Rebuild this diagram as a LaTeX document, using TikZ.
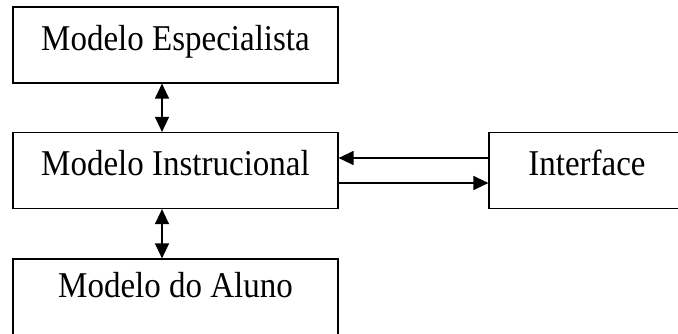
\documentclass[tikz,border=0pt]{standalone}
\usepackage{fontspec}
\usepackage{graphicx}
\setmainfont{Liberation Serif}
\usetikzlibrary{arrows.meta}
\newcommand{\tall}[1]{\scalebox{1}[1.1]{#1}}
\begin{document}
\begin{tikzpicture}[x=1pt,y=-1pt,
  box/.style={draw=black,line width=1.2pt,rectangle,inner sep=0pt,
    minimum width=#1,minimum height=76pt},
  box/.default=325pt,
  lbl/.style={anchor=base,inner sep=0pt,font=\fontsize{33}{36}\selectfont},
  link/.style={line width=1.3pt,-{Triangle[length=15pt,width=14pt]}},
  both/.style={line width=1.3pt,{Triangle[length=15pt,width=14pt]}-{Triangle[length=15pt,width=14pt]}}]
  \useasboundingbox (0,0) rectangle (678,333);
  \clip (0,0) rectangle (678,333);
  \fill[white] (0,0) rectangle (678,333);

  % boxes
  \node[box] (esp) at (175.5,45) {};
  \node[box] (ins) at (175.5,170.5) {};
  \node[box] (alu) at (175.5,297) {};
  \node[box=196pt] (int) at (587,170.5) {};

  % labels
  \node[lbl] (tesp) at ([yshift=-44pt]esp.north) {\tall{Modelo Especialista}};
  \node[lbl] (tins) at ([yshift=-44pt]ins.north) {\tall{Modelo Instrucional}};
  \node[lbl] (talu) at ([yshift=-39pt]alu.north) {\tall{Modelo do Aluno}};
  \node[lbl] (tint) at ([yshift=-44pt]int.north) {\tall{Interface}};

  % connectors
  \draw[both] ([xshift=-13.5pt]esp.south) -- ([xshift=-13.5pt]ins.north);
  \draw[both] ([xshift=-13.5pt]ins.south) -- ([xshift=-13.5pt]alu.north);
  \draw[link] ([yshift=12.5pt]int.west) -- ([yshift=12.5pt]ins.east);
  \draw[link] ([yshift=-12.5pt]ins.east) -- ([yshift=-12.5pt]int.west);
\end{tikzpicture}
\end{document}
